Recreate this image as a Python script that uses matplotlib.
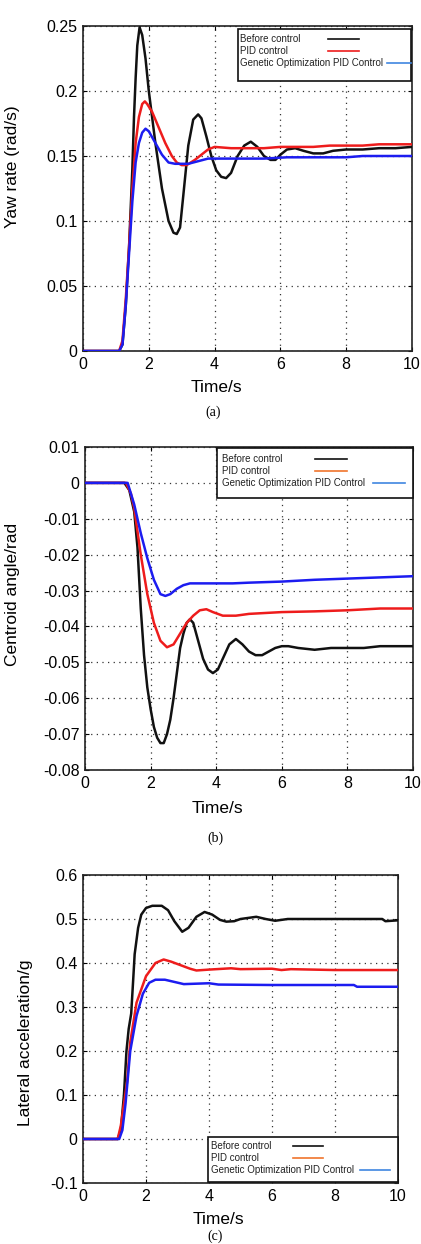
import matplotlib
matplotlib.use("Agg")
import matplotlib.pyplot as plt
from matplotlib.lines import Line2D
from matplotlib.patches import Rectangle

plt.rcParams['font.family'] = ['Liberation Sans', 'DejaVu Sans']

# ---------------- data ----------------
# (a) Yaw rate
ya_t_black = [0, 1.1, 1.2, 1.3, 1.4, 1.45, 1.5, 1.55, 1.6, 1.65, 1.72, 1.8, 1.9, 2.0, 2.2, 2.4, 2.6, 2.75, 2.85,
              2.95, 3.05, 3.2, 3.35, 3.5, 3.6, 3.75, 3.9, 4.05, 4.2, 4.35, 4.5, 4.7, 4.9, 5.1, 5.3, 5.5, 5.7,
              5.85, 6.0, 6.2, 6.45, 6.7, 7.0, 7.3, 7.6, 8.0, 8.5, 9.0, 9.5, 10]
ya_v_black = [0, 0, 0.005, 0.035, 0.08, 0.11, 0.14, 0.18, 0.21, 0.235, 0.249, 0.243, 0.225, 0.2, 0.16, 0.125,
              0.1, 0.091, 0.09, 0.095, 0.12, 0.158, 0.178, 0.182, 0.179, 0.165, 0.15, 0.139, 0.134, 0.133,
              0.137, 0.15, 0.158, 0.161, 0.157, 0.15, 0.147, 0.147, 0.151, 0.155, 0.156, 0.154, 0.152, 0.152,
              0.154, 0.155, 0.155, 0.156, 0.156, 0.157]
ya_t_red = [0, 1.1, 1.2, 1.3, 1.4, 1.5, 1.6, 1.7, 1.8, 1.88, 1.95, 2.1, 2.3, 2.5, 2.7, 2.85, 3.0, 3.15, 3.4,
            3.6, 3.8, 4.0, 4.5, 5.0, 5.5, 6.0, 7.0, 7.5, 8.5, 9.0, 10]
ya_v_red = [0, 0, 0.008, 0.04, 0.08, 0.125, 0.16, 0.18, 0.19, 0.192, 0.19, 0.184, 0.172, 0.16, 0.15, 0.145,
            0.143, 0.143, 0.147, 0.151, 0.155, 0.157, 0.156, 0.156, 0.156, 0.157, 0.157, 0.158, 0.158, 0.159,
            0.159]
ya_t_blue = [0, 1.1, 1.2, 1.3, 1.4, 1.5, 1.6, 1.7, 1.8, 1.9, 2.0, 2.2, 2.4, 2.6, 2.8, 3.2, 3.5, 3.8, 5.5,
             6.2, 8.0, 8.5, 10]
ya_v_blue = [0, 0, 0.005, 0.035, 0.075, 0.115, 0.145, 0.16, 0.168, 0.171, 0.169, 0.16, 0.151, 0.145, 0.144,
             0.144, 0.146, 0.148, 0.148, 0.149, 0.149, 0.15, 0.150]

# (b) Centroid angle
cb_t_black = [0, 1.2, 1.35, 1.5, 1.6, 1.7, 1.8, 1.9, 2.0, 2.1, 2.2, 2.3, 2.4, 2.5, 2.6, 2.7, 2.8, 2.9, 3.0,
              3.1, 3.2, 3.3, 3.45, 3.6, 3.75, 3.9, 4.05, 4.2, 4.4, 4.6, 4.8, 5.0, 5.2, 5.4, 5.6, 5.8, 6.0, 6.2,
              6.5, 7.0, 7.5, 8.5, 9.0, 10]
cb_v_black = [0, 0, -0.002, -0.008, -0.018, -0.035, -0.048, -0.057, -0.063, -0.068, -0.071, -0.0725, -0.0725,
              -0.07, -0.066, -0.06, -0.053, -0.046, -0.042, -0.039, -0.038, -0.039, -0.044, -0.049, -0.052,
              -0.053, -0.052, -0.049, -0.045, -0.0435, -0.045, -0.047, -0.048, -0.048, -0.047, -0.046,
              -0.0455, -0.0455, -0.046, -0.0465, -0.046, -0.046, -0.0455, -0.0455]
cb_t_red = [0, 1.25, 1.4, 1.5, 1.7, 1.9, 2.1, 2.3, 2.5, 2.7, 2.9, 3.1, 3.3, 3.5, 3.7, 3.9, 4.2, 4.6, 5.0, 6.0,
            7.0, 8.0, 9.0, 10]
cb_v_red = [0, 0, -0.003, -0.007, -0.02, -0.031, -0.039, -0.044, -0.0458, -0.045, -0.042, -0.039, -0.037,
            -0.0355, -0.0352, -0.036, -0.037, -0.037, -0.0365, -0.036, -0.0358, -0.0355, -0.035, -0.035]
cb_t_blue = [0, 1.3, 1.5, 1.7, 1.9, 2.1, 2.3, 2.45, 2.6, 2.8, 3.0, 3.2, 4.5, 5.0, 6.0, 7.0, 8.5, 10]
cb_v_blue = [0, 0, -0.006, -0.014, -0.021, -0.027, -0.031, -0.0315, -0.031, -0.0295, -0.0285, -0.028, -0.028,
             -0.0278, -0.0275, -0.027, -0.0265, -0.026]

# (c) Lateral acceleration
la_t_black = [0, 1.1, 1.2, 1.3, 1.38, 1.45, 1.53, 1.6, 1.64, 1.75, 1.85, 2.0, 2.2, 2.5, 2.7, 2.9, 3.15, 3.35,
              3.6, 3.86, 4.1, 4.35, 4.55, 4.8, 5.0, 5.5, 5.8, 6.1, 6.5, 7.0, 8.0, 9.0, 9.5, 9.6, 10]
la_v_black = [0, 0, 0.02, 0.1, 0.2, 0.25, 0.285, 0.37, 0.42, 0.48, 0.51, 0.525, 0.53, 0.53, 0.52, 0.495,
              0.471, 0.48, 0.505, 0.516, 0.51, 0.498, 0.494, 0.495, 0.5, 0.505, 0.5, 0.496, 0.5, 0.5, 0.5,
              0.5, 0.5, 0.495, 0.497]
la_t_red = [0, 1.1, 1.2, 1.3, 1.4, 1.5, 1.7, 2.0, 2.3, 2.56, 2.8, 3.1, 3.4, 3.6, 4.0, 4.7, 5.0, 6.0, 6.3, 6.6,
            8.0, 10]
la_v_red = [0, 0, 0.03, 0.08, 0.13, 0.22, 0.31, 0.37, 0.4, 0.408, 0.403, 0.395, 0.387, 0.383, 0.385, 0.388,
            0.386, 0.387, 0.384, 0.386, 0.384, 0.384]
la_t_blue = [0, 1.15, 1.25, 1.35, 1.5, 1.7, 1.9, 2.1, 2.3, 2.6, 2.9, 3.2, 4.0, 4.3, 6.0, 6.5, 8.6, 8.7, 10]
la_v_blue = [0, 0, 0.02, 0.08, 0.2, 0.28, 0.33, 0.355, 0.362, 0.362, 0.357, 0.352, 0.354, 0.351, 0.35, 0.35,
             0.35, 0.346, 0.346]

legend_labels = ["Before control", "PID control", "Genetic Optimization PID Control"]
x_ticks = [0, 2, 4, 6, 8, 10]
ya_yticks = [0, 0.05, 0.1, 0.15, 0.2, 0.25]
ya_yticklabels = ["0", "0.05", "0.1", "0.15", "0.2", "0.25"]
cb_yticks = [-0.08, -0.07, -0.06, -0.05, -0.04, -0.03, -0.02, -0.01, 0, 0.01]
cb_yticklabels = ["-0.08", "-0.07", "-0.06", "-0.05", "-0.04", "-0.03", "-0.02", "-0.01", "0", "0.01"]
la_yticks = [-0.1, 0, 0.1, 0.2, 0.3, 0.4, 0.5, 0.6]
la_yticklabels = ["-0.1", "0", "0.1", "0.2", "0.3", "0.4", "0.5", "0.6"]

BLACK = "#111111"
RED = "#ee1c1c"
BLUE = "#1c1cf0"
LEG_BLUE = "#3f86e0"
LEG_ORANGE = "#f0742c"

fig = plt.figure(figsize=(4.21, 12.44), dpi=100)


def style_axes(ax, yticks, yticklabels, ylim):
    ax.set_xlim(0, 10)
    ax.set_ylim(*ylim)
    ax.set_xticks(x_ticks)
    ax.set_xticklabels([str(v) for v in x_ticks])
    ax.set_yticks(yticks)
    ax.set_yticklabels(yticklabels)
    ax.tick_params(axis='both', direction='in', length=3, width=0.8, labelsize=11.5,
                   top=True, right=True, pad=4)
    ax.grid(True, linestyle=(0, (1, 3.5)), color='#333333', linewidth=0.9)
    for s in ax.spines.values():
        s.set_linewidth(1.2)
        s.set_color('#222222')


def set_labels(ax, ylabel, xcoords, ycoords):
    ax.set_xlabel("Time/s", fontsize=12.5, va='center')
    ax.xaxis.set_label_coords(*xcoords)
    ax.set_ylabel(ylabel, fontsize=12.5, va='center')
    ax.yaxis.set_label_coords(*ycoords)


def draw_legend(ax, box, text_x, rows, handles, colors):
    x0, x1, yb, yt = box
    ax.add_patch(Rectangle((x0, yb), x1 - x0, yt - yb, transform=ax.transAxes,
                           facecolor='white', edgecolor='#111111', linewidth=1.2,
                           zorder=10, clip_on=False))
    for lab, y, (hx0, hx1), c in zip(legend_labels, rows, handles, colors):
        ax.text(text_x, y, lab, transform=ax.transAxes, fontsize=7, va='center', ha='left',
                color='#222222', zorder=11)
        ax.add_line(Line2D([hx0, hx1], [y, y], transform=ax.transAxes, color=c, linewidth=1.2,
                           zorder=12, clip_on=False))


# ---------------- panel (a) ----------------
axa = fig.add_axes([83 / 421, 1 - 351 / 1244, 329 / 421, 325 / 1244])
axa.plot(ya_t_black, ya_v_black, color=BLACK, lw=1.8, zorder=3)
axa.plot(ya_t_red, ya_v_red, color=RED, lw=1.8, zorder=4)
axa.plot(ya_t_blue, ya_v_blue, color=BLUE, lw=1.8, zorder=5)
style_axes(axa, ya_yticks, ya_yticklabels, (0, 0.25))
set_labels(axa, "Yaw rate (rad/s)", (0.407, -0.111), (-0.213, 0.566))
draw_legend(axa, (0.471, 0.997, 0.831, 0.991), 0.477, [0.960, 0.923, 0.886],
            [(0.745, 0.839), (0.745, 0.839), (0.924, 0.997)], [BLACK, RED, LEG_BLUE])
fig.text(213 / 421, 1 - 412 / 1244, "(a)", fontsize=10, family=['Liberation Serif'],
         ha='center', va='center')

# ---------------- panel (b) ----------------
axb = fig.add_axes([85 / 421, 1 - 770 / 1244, 328 / 421, 323 / 1244])
axb.plot(cb_t_black, cb_v_black, color=BLACK, lw=1.8, zorder=3)
axb.plot(cb_t_red, cb_v_red, color=RED, lw=1.8, zorder=4)
axb.plot(cb_t_blue, cb_v_blue, color=BLUE, lw=1.8, zorder=5)
style_axes(axb, cb_yticks, cb_yticklabels, (-0.08, 0.01))
set_labels(axb, "Centroid angle/rad", (0.405, -0.118), (-0.22, 0.542))
draw_legend(axb, (0.402, 1.0, 0.842, 0.997), 0.418, [0.963, 0.926, 0.889],
            [(0.701, 0.799), (0.701, 0.799), (0.878, 0.976)], [BLACK, LEG_ORANGE, LEG_BLUE])
fig.text(215 / 421, 1 - 838 / 1244, "(b)", fontsize=10, family=['Liberation Serif'],
         ha='center', va='center')

# ---------------- panel (c) ----------------
axc = fig.add_axes([83 / 421, 1 - 1183 / 1244, 315 / 421, 308 / 1244])
axc.plot(la_t_black, la_v_black, color=BLACK, lw=1.8, zorder=3)
axc.plot(la_t_red, la_v_red, color=RED, lw=1.8, zorder=4)
axc.plot(la_t_blue, la_v_blue, color=BLUE, lw=1.8, zorder=5)
style_axes(axc, la_yticks, la_yticklabels, (-0.1, 0.6))
set_labels(axc, "Lateral acceleration/g", (0.429, -0.117), (-0.181, 0.455))
draw_legend(axc, (0.397, 1.0, 0.003, 0.149), 0.406, [0.120, 0.081, 0.042],
            [(0.667, 0.762), (0.667, 0.762), (0.879, 0.975)], [BLACK, LEG_ORANGE, LEG_BLUE])
fig.text(215 / 421, 1 - 1236 / 1244, "(c)", fontsize=10, family=['Liberation Serif'],
         ha='center', va='center')

fig.savefig("out.png", dpi=100, facecolor='white')
